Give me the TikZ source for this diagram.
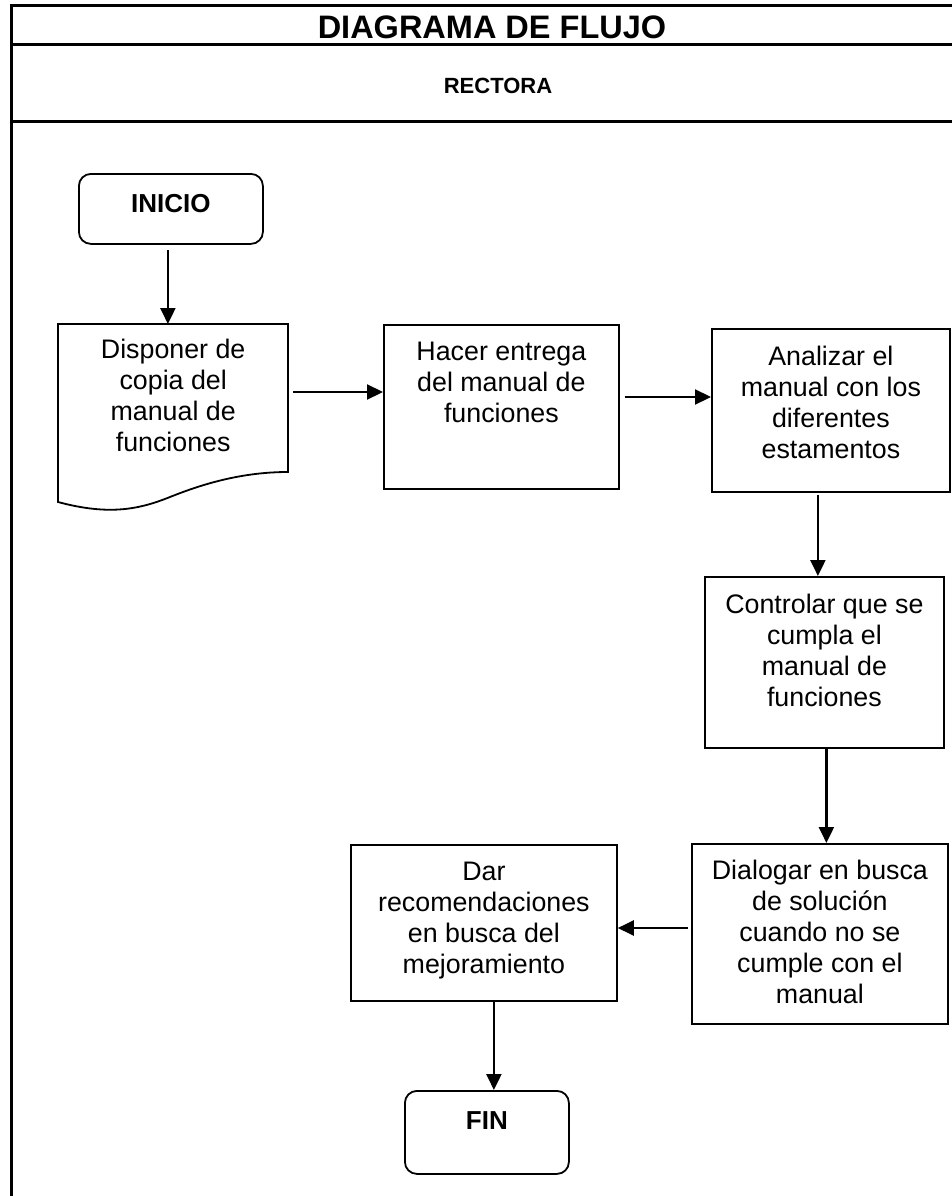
\documentclass[tikz,border=0pt]{standalone}
\usepackage{fontspec}
\setmainfont{Liberation Sans}
\usetikzlibrary{arrows.meta,calc}

% top-aligned, centred block of lines: width, height, first-baseline drop, text
\newcommand{\stepblock}[4]{%
  \parbox[c][#2pt][t]{#1pt}{\centering\fontsize{26.8}{31}\selectfont\rule{0pt}{#3pt}#4}}

\tikzset{
  frameline/.style={line width=3pt, line join=miter},
  procbox/.style={draw, line width=1.8pt, inner sep=0pt, rectangle, anchor=north west},
  termbox/.style={draw, line width=1.8pt, inner sep=0pt, rounded corners=12pt, anchor=north west},
  flowarrow/.style={line width=2.2pt, -{Triangle[length=16pt,width=15pt]}},
}

\begin{document}
\begin{tikzpicture}[x=1pt, y=-1pt]
  \useasboundingbox (0,0) rectangle (952,1196);
  \fill[white] (0,0) rectangle (952,1196);

  % header table
  \draw[frameline] (11,1196) -- (11,6) -- (952,6);
  \draw[frameline] (11,45) -- (952,45);
  \draw[frameline] (11,122) -- (952,122);
  \node (title) at (492,27) {\fontsize{32.5}{32.5}\selectfont\bfseries DIAGRAMA DE FLUJO};
  \node (role) at (498,86) {\fontsize{22}{22}\selectfont\bfseries RECTORA};

  % terminals
  \node[termbox] (inicio) at (78,173)
    {\parbox[c][70pt][t]{184pt}{\centering\fontsize{26}{31}\selectfont\rule{0pt}{39pt}\bfseries INICIO}};
  \node[termbox] (fin) at (404,1090)
    {\parbox[c][83pt][t]{164pt}{\centering\fontsize{26}{31}\selectfont\rule{0pt}{39pt}\bfseries FIN}};

  % document step (outline drawn below)
  \node[inner sep=0pt, anchor=north west] (doc) at (58,324)
    {\stepblock{230}{148}{34}{Disponer de\\copia del\\manual de\\funciones}};
  \draw[line width=1.8pt, line join=miter]
    (58,324) -- (288,324) -- (288,472)
    .. controls (240,472) and (200,485) .. (170,497)
    .. controls (140,509) and (110,516) .. (58,502) -- cycle;

  % process steps
  \node[procbox] (hacer) at (383,324)
    {\stepblock{235}{164}{36}{Hacer entrega\\del manual de\\funciones}};
  \node[procbox] (analizar) at (711,328)
    {\stepblock{238}{163}{37}{Analizar el\\manual con los\\diferentes\\estamentos}};
  \node[procbox] (controlar) at (704,576)
    {\stepblock{239}{171}{37}{Controlar que se\\cumpla el\\manual de\\funciones}};
  \node[procbox] (dialogar) at (691,843)
    {\stepblock{256}{180}{36}{Dialogar en busca\\de soluci\'on\\cuando no se\\cumple con el\\manual}};
  \node[procbox] (dar) at (350,844)
    {\stepblock{266}{156}{36}{Dar\\recomendaciones\\en busca del\\mejoramiento}};

  % connectors
  \draw[flowarrow] ($(inicio.south)+(-3,5)$) coordinate (i1) -- (i1 |- doc.north);
  \draw[flowarrow] ($(doc.north east)+(5,68)$) coordinate (p1) -- (p1 -| hacer.west);
  \draw[flowarrow] ($(hacer.north east)+(5,73)$) coordinate (h1) -- (h1 -| analizar.west);
  \draw[flowarrow] ($(analizar.south)+(-13,2)$) coordinate (a1) -- (a1 |- controlar.north);
  \draw[flowarrow] ($(controlar.south)+(2,0)$) coordinate (c1) -- (c1 |- dialogar.north);
  \draw[flowarrow] ($(dialogar.north west)+(-3,85)$) coordinate (d1) -- (d1 -| dar.east);
  \draw[flowarrow] ($(dar.south)+(10,0)$) coordinate (r1) -- (r1 |- fin.north);
\end{tikzpicture}
\end{document}
